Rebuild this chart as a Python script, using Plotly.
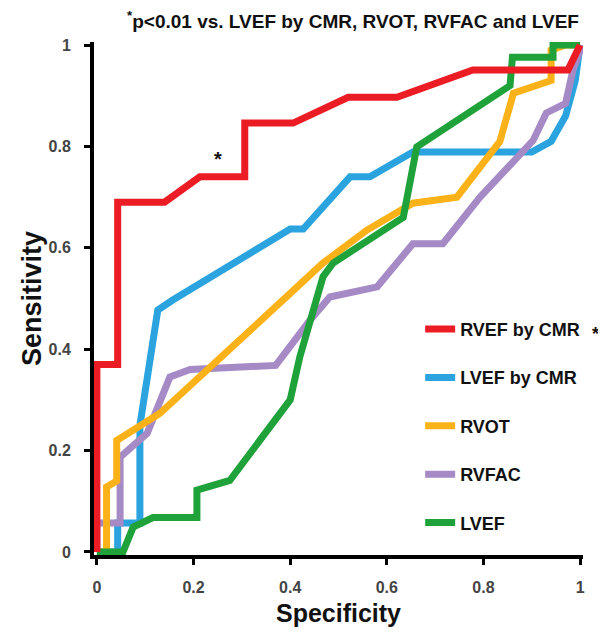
import plotly.graph_objects as go

# ROC curves (specificity-like x, sensitivity y)
rvef_cmr_x = [0, 0, 0.043, 0.043, 0.14, 0.213, 0.306, 0.306, 0.406, 0.52, 0.621, 0.778, 0.975, 1.0]
rvef_cmr_y = [0, 0.37, 0.37, 0.69, 0.69, 0.74, 0.74, 0.846, 0.846, 0.897, 0.897, 0.951, 0.951, 1.0]

lvef_cmr_x = [0, 0.043, 0.043, 0.089, 0.089, 0.126, 0.157, 0.4, 0.427, 0.524, 0.565, 0.654, 0.9, 0.94, 0.97, 0.99, 1.0]
lvef_cmr_y = [0, 0, 0.057, 0.057, 0.25, 0.477, 0.497, 0.637, 0.637, 0.74, 0.74, 0.789, 0.789, 0.81, 0.86, 0.93, 1.0]

rvot_x = [0, 0.02, 0.02, 0.041, 0.041, 0.13, 0.4, 0.468, 0.559, 0.654, 0.745, 0.834, 0.862, 0.94, 0.94, 0.97, 1.0]
rvot_y = [0, 0, 0.128, 0.14, 0.22, 0.273, 0.51, 0.57, 0.635, 0.688, 0.70, 0.81, 0.905, 0.93, 0.99, 1.0, 1.0]

rvfac_x = [0, 0, 0.048, 0.048, 0.104, 0.151, 0.193, 0.37, 0.441, 0.482, 0.58, 0.654, 0.716, 0.793, 0.903, 0.93, 0.97, 0.985, 1.0, 1.0]
rvfac_y = [0, 0.057, 0.057, 0.187, 0.234, 0.345, 0.36, 0.368, 0.457, 0.503, 0.523, 0.608, 0.608, 0.70, 0.812, 0.866, 0.885, 0.95, 0.99, 1.0]

lvef_x = [0, 0.054, 0.075, 0.116, 0.207, 0.207, 0.275, 0.4, 0.42, 0.468, 0.489, 0.634, 0.662, 0.855, 0.86, 0.944, 0.944, 1.0]
lvef_y = [0, 0, 0.049, 0.068, 0.068, 0.122, 0.141, 0.30, 0.385, 0.543, 0.57, 0.66, 0.799, 0.92, 0.976, 0.976, 1.0, 1.0]

x_ticks = [0, 0.2, 0.4, 0.6, 0.8, 1]
x_tick_labels = ["0", "0.2", "0.4", "0.6", "0.8", "1"]
y_ticks = [0, 0.2, 0.4, 0.6, 0.8, 1]
y_tick_labels = ["0", "0.2", "0.4", "0.6", "0.8", "1"]

series = [
    # name, x, y, color, legend rank
    ("LVEF by CMR", lvef_cmr_x, lvef_cmr_y, "#2BA3DE", 2),
    ("RVFAC", rvfac_x, rvfac_y, "#A58AC6", 4),
    ("RVOT", rvot_x, rvot_y, "#FBB218", 3),
    ("LVEF", lvef_x, lvef_y, "#20A23A", 5),
    ("RVEF by CMR", rvef_cmr_x, rvef_cmr_y, "#EC1C24", 1),
]

FONT = "Liberation Sans, Arial, sans-serif"

fig = go.Figure()
for name, xs, ys, col, rank in series:
    fig.add_trace(go.Scatter(
        x=xs, y=ys, mode="lines", name=name,
        line=dict(color=col, width=7),
        legendgroup=name, legendrank=rank,
    ))

axis_font = dict(family=FONT, size=16, color="#444", weight="bold")

# page body has an 8px default margin, so the figure is sized to fit the window
fig.update_layout(
    width=598, height=624,
    margin=dict(l=86, r=23, t=34, b=77),
    paper_bgcolor="white", plot_bgcolor="white",
    showlegend=True,
    legend=dict(
        x=0.667, y=0.476, xanchor="left", yanchor="top",
        font=dict(family=FONT, size=18, color="#111", weight="bold"),
        tracegroupgap=22, bgcolor="rgba(0,0,0,0)",
    ),
    xaxis=dict(
        range=[-0.006, 1.006], tickvals=x_ticks, ticktext=x_tick_labels,
        showgrid=False, zeroline=False, showline=True, linecolor="black", linewidth=4,
        ticks="outside", ticklen=6, tickwidth=3, tickcolor="black",
        tickfont=axis_font, ticklabelstandoff=9, automargin=False,
        title=dict(text="Specificity", standoff=10,
                   font=dict(family=FONT, size=25, color="#111", weight="bold")),
    ),
    yaxis=dict(
        range=[-0.006, 1.006], tickvals=y_ticks, ticktext=y_tick_labels,
        showgrid=False, zeroline=False, showline=True, linecolor="black", linewidth=4,
        ticks="outside", ticklen=6, tickwidth=3, tickcolor="black",
        tickfont=axis_font, ticklabelstandoff=10, automargin=False,
        title=dict(text="Sensitivity", standoff=0,
                   font=dict(family=FONT, size=27, color="#111", weight="bold")),
    ),
    annotations=[
        dict(text="<sup>*</sup>p&lt;0.01 vs. LVEF by CMR, RVOT, RVFAC and LVEF",
             xref="paper", yref="paper", x=0.53, y=1.0, yshift=22, xanchor="center", yanchor="middle",
             showarrow=False,
             font=dict(family=FONT, size=19, color="#111", weight="bold")),
        dict(text="*", x=0.25, y=0.775, xref="x", yref="y", showarrow=False,
             font=dict(family=FONT, size=20, color="#111", weight="bold")),
        # significance marker after the "RVEF by CMR" legend entry
        dict(text="*", x=1.026, y=0.43, xref="paper", yref="paper", showarrow=False,
             xanchor="center", yanchor="middle",
             font=dict(family=FONT, size=18, color="#111", weight="bold")),
    ],
)

fig.write_html("out.html")
